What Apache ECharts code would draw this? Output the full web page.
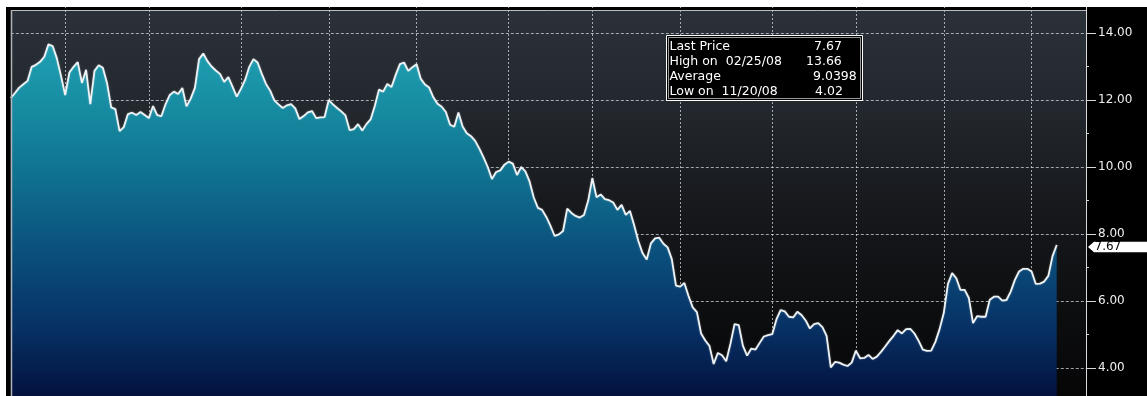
<!DOCTYPE html>
<html><head><meta charset="utf-8">
<script src="https://cdn.jsdelivr.net/npm/echarts@6/dist/echarts.min.js"></script>
<style>html,body{margin:0;padding:0;background:#000;}#c{width:1147px;height:396px;}</style>
</head><body><div id="c"></div>
<script>
// ---- data (daily closes) ----
const prices = [
 12.06,12.21,12.37,12.47,12.57,12.99,13.05,13.14,13.29,13.66,
 13.61,13.25,12.72,12.15,12.82,12.99,13.13,12.51,12.90,11.88,
 12.87,13.04,12.96,12.51,11.78,11.73,11.07,11.19,11.58,11.62,
 11.55,11.64,11.55,11.46,11.82,11.55,11.52,11.88,12.15,12.25,
 12.18,12.36,11.81,12.04,12.36,13.22,13.39,13.16,13.00,12.88,
 12.78,12.54,12.68,12.40,12.10,12.33,12.60,12.99,13.22,13.12,
 12.78,12.48,12.28,11.99,11.87,11.76,11.84,11.88,11.75,11.43,
 11.52,11.63,11.67,11.46,11.48,11.49,12.00,11.87,11.76,11.66,
 11.54,11.10,11.13,11.28,11.09,11.28,11.42,11.82,12.31,12.25,
 12.48,12.39,12.75,13.07,13.12,12.87,12.98,13.07,12.63,12.46,
 12.37,12.08,11.89,11.80,11.64,11.26,11.20,11.63,11.21,11.01,
 10.92,10.78,10.55,10.29,10.00,9.64,9.85,9.90,10.07,10.16,
 10.10,9.76,10.00,9.87,9.57,9.09,8.78,8.72,8.51,8.24,
 7.94,7.99,8.09,8.76,8.63,8.54,8.49,8.57,8.99,9.67,
 9.10,9.18,9.04,9.01,8.94,8.72,8.87,8.57,8.69,8.26,
 7.79,7.43,7.24,7.72,7.87,7.89,7.71,7.60,7.25,6.46,
 6.43,6.54,6.15,5.81,5.67,5.03,4.82,4.66,4.12,4.45,
 4.38,4.20,4.72,5.31,5.28,4.66,4.37,4.58,4.55,4.75,
 4.94,4.98,5.01,5.45,5.73,5.69,5.53,5.51,5.68,5.58,
 5.42,5.18,5.31,5.34,5.22,4.96,4.02,4.18,4.16,4.10,
 4.06,4.16,4.52,4.29,4.30,4.39,4.27,4.34,4.48,4.64,
 4.81,4.96,5.13,5.03,5.16,5.17,5.03,4.81,4.55,4.51,
 4.52,4.78,5.16,5.64,6.51,6.83,6.68,6.33,6.33,6.09,
 5.34,5.55,5.53,5.53,6.04,6.13,6.13,6.01,6.03,6.28,
 6.63,6.88,6.96,6.96,6.88,6.51,6.52,6.58,6.75,7.34,7.67
];
const slotCount = 258; // trading-day slots on the x axis (a few empty at the right)
const categories = Array.from({length: slotCount}, (_, i) => 'day' + i);
const monthStartIdx = [13,33,55,76,97,119,139,160,182,202,223,244];
const monthLabels = ['Mar','Apr','May','Jun','Jul','Aug','Sep','Oct','Nov','Dec','Jan','Feb'];
const yMin = 2, yMax = 16, yStep = 2;
const legendLabels = ['Last Price', 'High on  02/25/08', 'Average', 'Low on  11/20/08'];
const legendValues = ['7.67', '13.66', '9.0398', '4.02'];

// ---- styles ----
const FONT = 'DejaVu Sans';
const gridColor = 'rgba(215,222,230,0.72)';

const chart = echarts.init(document.getElementById('c'), null, {renderer: 'canvas'});

const base = {
  animation: false,
  backgroundColor: '#000',
  grid: {left: 10.8, right: 61, top: -34, bottom: -39, containLabel: false, outerBoundsMode: 'none'},
  xAxis: {
    type: 'category', data: categories, boundaryGap: false,
    axisLine: {show: false}, axisTick: {show: false}, axisLabel: {show: false},
    splitLine: {show: true, interval: (idx) => monthStartIdx.indexOf(idx) >= 0,
      lineStyle: {color: gridColor, type: [2, 2], width: 1}}
  },
  yAxis: {
    type: 'value', position: 'right', min: yMin, max: yMax, interval: yStep,
    axisLine: {show: true, lineStyle: {color: '#d6d8da', width: 1}},
    axisTick: {show: true, length: 10, lineStyle: {color: '#d6d8da'}},
    minorTick: {show: true, splitNumber: 2, length: 3, lineStyle: {color: '#d6d8da'}},
    axisLabel: {margin: 12, color: '#eeeeee', fontFamily: FONT, fontSize: 12,
      formatter: (v) => v.toFixed(2)},
    splitLine: {show: true, lineStyle: {color: gridColor, type: [3, 2], width: 1}}
  },
  series: [{
    type: 'line', data: prices, symbol: 'none', smooth: false,
    lineStyle: {color: '#eef3f6', width: 1.8, shadowColor: 'rgba(255,255,255,0.35)', shadowBlur: 2},
    areaStyle: {
      origin: 'start', opacity: 1,
      color: {type: 'linear', x: 0, y: 40, x2: 0, y2: 396, global: true, colorStops: [
        {offset: 0, color: '#20a2b4'}, {offset: 0.2, color: '#168aa0'},
        {offset: 0.4, color: '#0f6e8e'}, {offset: 0.6, color: '#0a4f7c'},
        {offset: 0.8, color: '#073266'}, {offset: 1, color: '#03123e'}]}
    },
    z: 2
  }]
};
chart.setOption(base);

const lastPrice = prices[prices.length - 1];
const py = chart.convertToPixel({yAxisIndex: 0}, lastPrice);

const graphics = [
  // plot background
  {type: 'rect', z: -10, shape: {x: 10.8, y: 10, width: 1075.2, height: 386},
   style: {fill: {type: 'linear', x: 0, y: 0, x2: 0, y2: 1, colorStops: [
     {offset: 0, color: '#2b3139'}, {offset: 0.25, color: '#23282e'},
     {offset: 0.5, color: '#17191d'}, {offset: 0.75, color: '#0e0f11'},
     {offset: 1, color: '#060607'}]}}},
  // frame
  {type: 'rect', z: 100, shape: {x: 0, y: 0, width: 1147, height: 7}, style: {fill: '#ffffff'}},
  {type: 'rect', z: 100, shape: {x: 0, y: 0, width: 6, height: 396}, style: {fill: '#ffffff'}},
  {type: 'line', z: 100, shape: {x1: 11, y1: 10.5, x2: 1086, y2: 10.5}, style: {stroke: '#b8bcc0', lineWidth: 1}},
  {type: 'line', z: 100, shape: {x1: 11.5, y1: 10, x2: 11.5, y2: 396}, style: {stroke: '#b0b4b8', lineWidth: 1.5}},
  // legend box
  {type: 'rect', z: 100, shape: {x: 666.5, y: 35.5, width: 196, height: 65},
   style: {fill: '#000', stroke: '#ffffff', lineWidth: 1}},
  {type: 'rect', z: 100, shape: {x: 668.5, y: 37.5, width: 192, height: 61},
   style: {fill: 'none', stroke: '#9a9a9a', lineWidth: 1}},
  // last price tag
  {type: 'polygon', z: 100, shape: {points: [[1088, py + 2], [1094, py - 3.3], [1147, py - 3.3], [1147, py + 7.3], [1094, py + 7.3]]},
   style: {fill: '#ffffff'}},
  {type: 'text', z: 101, style: {text: lastPrice.toFixed(2), x: 1094.5, y: py + 2.2, fill: '#000',
   font: '12px "' + FONT + '"', textVerticalAlign: 'middle'}}
];
const valueX = [814, 806, 813, 815];
legendLabels.forEach((t, k) => {
  graphics.push({type: 'text', z: 101, style: {text: t, x: 669.5, y: 46.5 + 15.1 * k, fill: '#fff',
    font: '12.5px "' + FONT + '"', textVerticalAlign: 'middle'}});
  graphics.push({type: 'text', z: 101, style: {text: legendValues[k], x: valueX[k], y: 46.5 + 15.1 * k, fill: '#fff',
    font: '12.5px "' + FONT + '"', textVerticalAlign: 'middle'}});
});
chart.setOption({graphic: graphics});
</script></body></html>
